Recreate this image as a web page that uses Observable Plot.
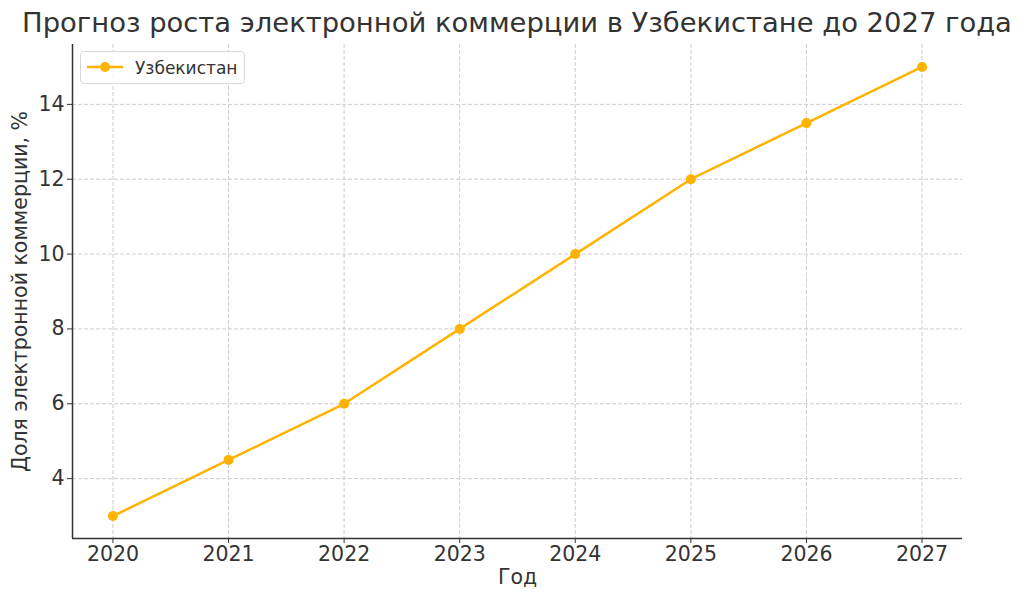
<!DOCTYPE html>
<html>
<head>
<meta charset="utf-8">
<script src="https://cdn.jsdelivr.net/npm/d3@7"></script>
<script src="https://cdn.jsdelivr.net/npm/@observablehq/plot@0.6"></script>
<style>
  html, body { margin: 0; padding: 0; background: #fff; }
  #wrap { position: relative; width: 1024px; height: 604px; font-family: "DejaVu Sans", sans-serif; color: #333; }
  #title { position: absolute; left: 0; top: 7px; width: 1034px; text-align: center; font-size: 27.4px; line-height: 32px; color: #333; white-space: nowrap; }
  #legend { position: absolute; left: 80px; top: 51px; width: 165px; height: 33px; border: 1px solid #d8d8d8; border-radius: 4px; background: rgba(255,255,255,0.85); box-sizing: border-box; }
  #legend svg { position: absolute; left: 5px; top: 6px; }
  #legend span { position: absolute; left: 54px; top: 6px; font-size: 17px; line-height: 20px; color: #333; }
</style>
</head>
<body>
<div id="wrap">
  <div id="chart"></div>
  <div id="title">Прогноз роста электронной коммерции в Узбекистане до 2027 года</div>
  <div id="legend">
    <svg width="40" height="18"><line x1="1" y1="9" x2="37" y2="9" stroke="#FFB300" stroke-width="2.5"/><circle cx="19" cy="9" r="5" fill="#FFB300"/></svg>
    <span>Узбекистан</span>
  </div>
</div>
<script>
const years = [2020, 2021, 2022, 2023, 2024, 2025, 2026, 2027];
const share = [3, 4.5, 6, 8, 10, 12, 13.5, 15];
const yTicks = [4, 6, 8, 10, 12, 14];
const seriesName = "Узбекистан";
const titleText = "Прогноз роста электронной коммерции в Узбекистане до 2027 года";
const xLabel = "Год";
const yLabel = "Доля электронной коммерции, %";

const data = years.map((y, i) => ({year: y, value: share[i]}));
const color = "#FFB300";
const xDom = [2019.65, 2027.35];
const yDom = [2.4, 15.6];

const chart = Plot.plot({
  width: 1024,
  height: 604,
  marginLeft: 72,
  marginRight: 62,
  marginTop: 44,
  marginBottom: 66,
  style: {fontFamily: "DejaVu Sans, sans-serif", color: "#333", background: "transparent", overflow: "visible"},
  x: {domain: xDom},
  y: {domain: yDom},
  marks: [
    Plot.ruleX(years, {x: d => d, stroke: "#cccccc", strokeWidth: 1, strokeDasharray: "4,2"}),
    Plot.ruleY(yTicks, {y: d => d, stroke: "#cccccc", strokeWidth: 1, strokeDasharray: "4,2"}),
    Plot.axisX({ticks: years, tickFormat: d => String(d), tickSize: 5, fontSize: 20.5, tickPadding: 3, label: null, stroke: "#333"}),
    Plot.axisY({ticks: yTicks, tickFormat: d => String(d), tickSize: 5, fontSize: 20.5, tickPadding: 3, label: null, stroke: "#333"}),
    Plot.ruleX([xDom[0]], {stroke: "#333", strokeWidth: 1.5}),
    Plot.ruleY([yDom[0]], {stroke: "#333", strokeWidth: 1.5}),
    Plot.lineY(data, {x: "year", y: "value", stroke: color, strokeWidth: 2.5}),
    Plot.dot(data, {x: "year", y: "value", fill: color, r: 5}),
    Plot.text([xLabel], {frameAnchor: "bottom", dy: 45, text: d => d, fontSize: 20.5, fill: "#333"}),
    Plot.text([yLabel], {frameAnchor: "left", textAnchor: "middle", dx: -52, rotate: -90, text: d => d, fontSize: 20.5, fill: "#333"})
  ]
});
document.getElementById("chart").appendChild(chart);
</script>
</body>
</html>
